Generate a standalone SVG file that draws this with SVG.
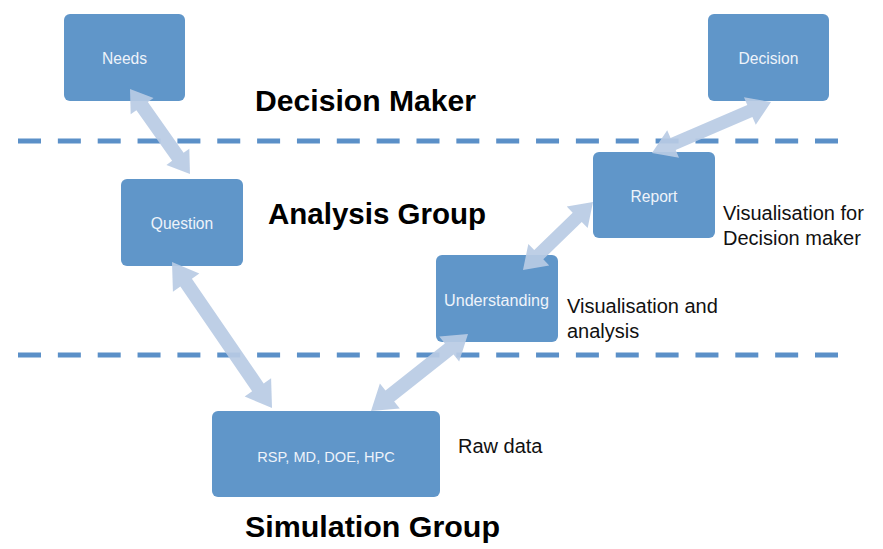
<svg xmlns="http://www.w3.org/2000/svg" width="883" height="549" viewBox="0 0 883 549">
<style>
.box{fill:#6096c9;}
.lbl{font-family:"Liberation Sans",Arial,sans-serif;font-size:15.6px;fill:#eef3fa;text-anchor:middle;}
.title{font-family:"Liberation Sans",Arial,sans-serif;font-size:30px;font-weight:bold;fill:#000;}
.note{font-family:"Liberation Sans",Arial,sans-serif;font-size:20px;fill:#111;}
.dash{stroke:#5b90c8;stroke-width:5;stroke-dasharray:23 16.85;fill:none;}
.arrow{fill:#b8cbe4;opacity:0.92;}
</style>
<rect width="883" height="549" fill="#ffffff"/>
<g id="separators">
<line class="dash" x1="18" y1="141" x2="840" y2="141"/>
<line class="dash" x1="18" y1="355" x2="840" y2="355"/>
</g>
<g id="group-titles">
<text class="title" x="255" y="111" textLength="221" lengthAdjust="spacingAndGlyphs">Decision Maker</text>
<text class="title" x="268" y="224" textLength="218" lengthAdjust="spacingAndGlyphs">Analysis Group</text>
<text class="title" x="245" y="537" textLength="255" lengthAdjust="spacingAndGlyphs">Simulation Group</text>
</g>
<g id="node-needs"><rect class="box" x="64" y="14" width="121" height="87" rx="6"/><text class="lbl" x="124.5" y="64">Needs</text></g>
<g id="node-decision"><rect class="box" x="708" y="14" width="121" height="87" rx="6"/><text class="lbl" x="768.5" y="64">Decision</text></g>
<g id="node-question"><rect class="box" x="121" y="179" width="122" height="87" rx="6"/><text class="lbl" x="182" y="229">Question</text></g>
<g id="node-report"><rect class="box" x="593" y="152" width="122" height="86" rx="6"/><text class="lbl" x="654" y="202">Report</text></g>
<g id="node-understanding"><rect class="box" x="436" y="255" width="122" height="87" rx="6"/><text class="lbl" x="496.5" y="306" textLength="105" lengthAdjust="spacingAndGlyphs">Understanding</text></g>
<g id="node-simulation"><rect class="box" x="212" y="411" width="228" height="86" rx="6"/><text class="lbl" x="326" y="462" style="font-size:14.6px">RSP, MD, DOE, HPC</text></g>
<g id="notes">
<text class="note" x="723" y="220">Visualisation for</text>
<text class="note" x="723" y="245">Decision maker</text>
<text class="note" x="567" y="313">Visualisation and</text>
<text class="note" x="567" y="338">analysis</text>
<text class="note" x="458" y="453">Raw data</text>
</g>
<g id="connectors">
<g transform="translate(130,89) rotate(54.78)"><polygon class="arrow" points="0,0 21,-14 21,-7 83,-7 83,-14 104,0 83,14 83,7 21,7 21,14"/></g>
<g transform="translate(172,262) rotate(55.59)"><polygon class="arrow" points="0,0 25,-16 25,-7 152,-7 152,-16 177,0 152,16 152,7 25,7 25,16"/></g>
<g transform="translate(468,334) rotate(141.56)"><polygon class="arrow" points="0,0 24,-16 24,-7 99.8,-7 99.8,-16 123.8,0 99.8,16 99.8,7 24,7 24,16"/></g>
<g transform="translate(593,202) rotate(135.83)"><polygon class="arrow" points="0,0 22,-15 22,-6.5 75.6,-6.5 75.6,-15 97.6,0 75.6,15 75.6,6.5 22,6.5 22,15"/></g>
<g transform="translate(771,102) rotate(156.8)"><polygon class="arrow" points="0,0 23,-15 23,-6.5 106.5,-6.5 106.5,-15 129.5,0 106.5,15 106.5,6.5 23,6.5 23,15"/></g>
</g>
</svg>
